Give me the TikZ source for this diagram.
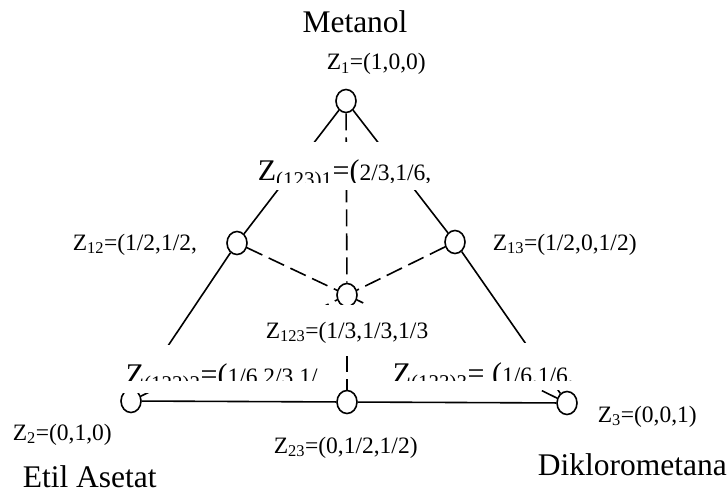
\documentclass[tikz,border=0pt]{standalone}
\usepackage{fontspec}
\setmainfont{Liberation Serif}
\usepackage{tikz}
\usetikzlibrary{shapes.geometric}
\newcommand{\fontL}{\fontsize{31.5}{34}\selectfont}
\newcommand{\fontM}{\fontsize{30}{33}\selectfont}
\newcommand{\fontS}{\fontsize{23.5}{28}\selectfont}
\begin{document}
\begin{tikzpicture}[x=1pt,y=-1pt,line width=1.6pt,
  vertex/.style={draw,ellipse,fill=white,minimum width=20pt,minimum height=23pt,inner sep=0pt},
  lbl/.style={anchor=base west,inner sep=0pt,font=\fontS},
  hid/.style={dash pattern=on 17pt off 7pt}]
\useasboundingbox (0,0) rectangle (728,495);
\node[vertex] (z1) at (346,101) {};
\node[vertex] (z12) at (237,243) {};
\node[vertex] (z13) at (455,242) {};
\node[vertex] (z123) at (347,295) {};
\node[vertex] (z2) at (131,401) {};
\node[vertex] (z23) at (347,402) {};
\node[vertex] (z3) at (567,403) {};
\draw (z1)--(z12);
\draw (z12)--(z2);
\draw (z1)--(z13);
\draw (z13)--(z3);
\draw (z2)--(z23);
\draw (z23)--(z3);
\draw[hid] (z1)--(z123);
\draw[hid] (z12)--(z123);
\draw[hid] (z13)--(z123);
\draw[hid] (z123)--(z23);
\draw[hid] (z2)--(z123);
\draw[hid] (z3)--(z123);
\fill[white] (250,142) rectangle (435,190);
\begin{scope}
\clip (250,142) rectangle (435,182);
\node[lbl] (m1) at (257,180) {\fontM Z\textsubscript{(123)1}=(\fontS 2/3,1/6,};
\end{scope}
\fill[white] (230,305) rectangle (465,356);
\node[lbl] (l123) at (265,338) {Z\textsubscript{123}=(1/3,1/3,1/3};
\fill[white] (118,345) rectangle (322,393);
\begin{scope}
\clip (118,345) rectangle (320,380);
\node[lbl] (m2) at (125,384) {\fontM Z\textsubscript{(123)2}=(\fontS 1/6,2/3,1/};
\end{scope}
\fill[white] (385,343) rectangle (580,390);
\begin{scope}
\clip (385,343) rectangle (580,380);
\node[lbl] (m3) at (392,383) {\fontM Z\textsubscript{(123)3}= (\fontS 1/6,1/6,};
\end{scope}
\node[lbl,font=\fontL,anchor=base] (met) at (355,33) {Metanol};
\node[lbl] (l1) at (326,70) {Z\textsubscript{1}=(1,0,0)};
\node[lbl] (l12) at (72,250) {Z\textsubscript{12}=(1/2,1/2,};
\node[lbl] (l13) at (492,250) {Z\textsubscript{13}=(1/2,0,1/2)};
\node[lbl] (l2) at (12,440) {Z\textsubscript{2}=(0,1,0)};
\node[lbl] (l23) at (273,453) {Z\textsubscript{23}=(0,1/2,1/2)};
\node[lbl] (l3) at (597,422) {Z\textsubscript{3}=(0,0,1)};
\node[lbl,font=\fontL] (ea) at (22,487) {Etil Asetat};
\node[lbl,font=\fontL] (dk) at (537,475) {Diklorometana};
\end{tikzpicture}
\end{document}
